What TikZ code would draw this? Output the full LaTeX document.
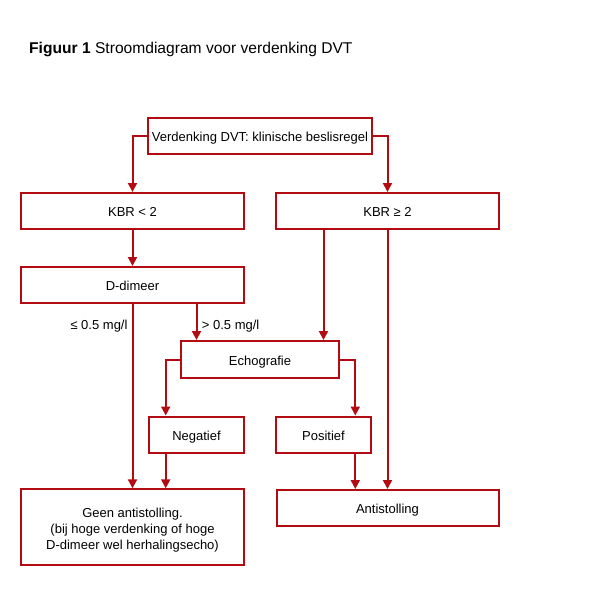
\documentclass[tikz,border=0pt]{standalone}
\usepackage{fontspec}
\setmainfont{Liberation Sans}
\usepackage{tikz}
\usetikzlibrary{arrows.meta, positioning, calc}

\definecolor{donkerrood}{RGB}{178,12,18}

\begin{document}
\begin{tikzpicture}[x=1pt, y=-1pt, >={Triangle[length=9pt, width=9pt]},
    blok/.style={draw=donkerrood, line width=2pt, rectangle, inner sep=0pt,
        align=center, font=\fontsize{13}{15.7}\selectfont},
    enkel/.style={blok, text height=11pt, text depth=0pt},
    pijl/.style={->, draw=donkerrood, line width=2pt},
    label/.style={font=\fontsize{13}{15.7}\selectfont, inner sep=0pt}]

    \useasboundingbox (0, 0) rectangle (613, 600);

    % titel
    \node[anchor=base west, inner sep=0pt, font=\fontsize{15.6}{18}\selectfont] (titel) at (29, 53)
        {\textbf{Figuur 1} Stroomdiagram voor verdenking DVT};

    % blokken
    \node[enkel, minimum width=224, minimum height=36] (verdenking) at (260, 136) {Verdenking DVT: klinische beslisregel};
    \node[enkel, minimum width=223, minimum height=36] (kbrlaag) at (132.5, 211) {KBR < 2};
    \node[enkel, minimum width=223, minimum height=36] (kbrhoog) at (387.5, 211) {KBR ≥ 2};
    \node[enkel, minimum width=223, minimum height=36] (ddimeer) at (132.5, 285) {D-dimeer};
    \node[enkel, minimum width=158, minimum height=37] (echo) at (260, 359.5) {Echografie};
    \node[enkel, minimum width=95, minimum height=36] (negatief) at (196.5, 434.5) {Negatief};
    \node[enkel, minimum width=95, minimum height=36] (positief) at (323.5, 434.5) {Positief};
    \node[blok, minimum width=223, minimum height=76] (geen) at (132.5, 527.3)
        {\rule{0pt}{15pt}Geen antistolling.\\(bij hoge verdenking of hoge\\D-dimeer wel herhalingsecho)};
    \node[enkel, minimum width=222, minimum height=36] (anti) at (387.5, 508) {Antistolling};

    % hulppunten voor de zijtakken
    \coordinate (linkertak) at (165.7, 0);
    \coordinate (rechtertak) at (355.3, 0);

    % verbindingen
    \draw[pijl] (verdenking.west) -| (kbrlaag.north);
    \draw[pijl] (verdenking.east) -| (kbrhoog.north);
    \draw[pijl] (kbrlaag) -- (ddimeer);
    \draw[pijl] (ddimeer.south) -- (geen.north);
    \draw[pijl] (ddimeer.south -| negatief.north) -- (echo.north -| negatief.north);
    \draw[pijl] (kbrhoog.south -| positief.north) -- (echo.north -| positief.north);
    \draw[pijl] (kbrhoog.south) -- (anti.north);
    \draw[pijl] (echo.west) -| (negatief.north -| linkertak);
    \draw[pijl] (echo.east) -| (positief.north -| rechtertak);
    \draw[pijl] (negatief.south -| linkertak) -- (geen.north -| linkertak);
    \draw[pijl] (positief.south -| rechtertak) -- (anti.north -| rechtertak);

    % labels bij D-dimeer
    \node[label, anchor=base east] (laag) at (127.7, 329) {≤ 0.5 mg/l};
    \node[label, anchor=base west] (hoog) at (201.7, 329) {> 0.5 mg/l};

\end{tikzpicture}
\end{document}
